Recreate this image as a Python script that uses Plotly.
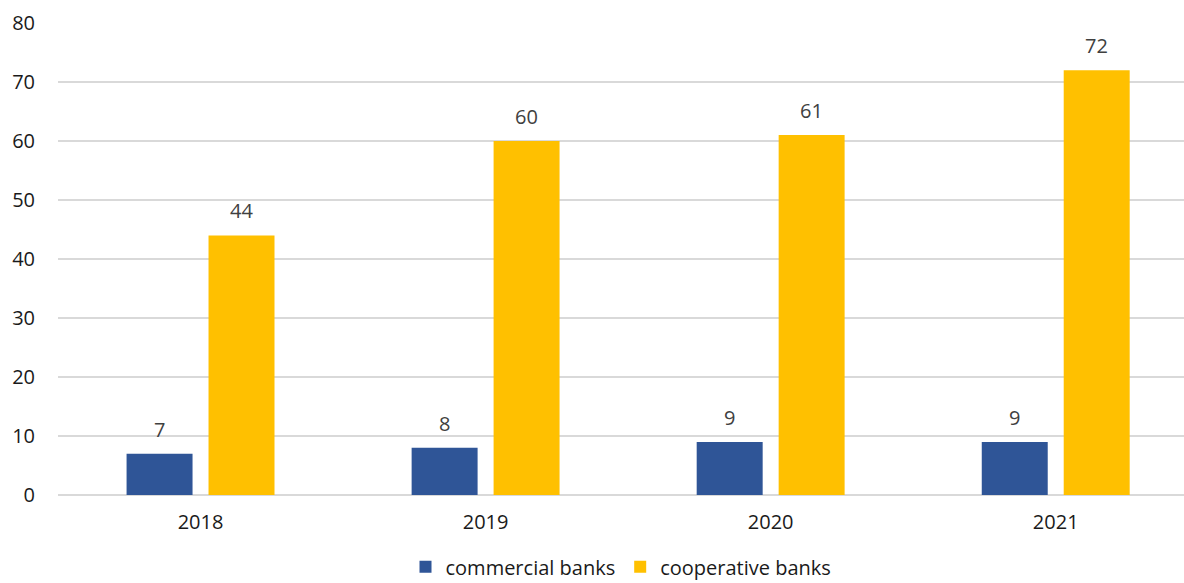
import plotly.graph_objects as go

years = ["2018", "2019", "2020", "2021"]
commercial = [7, 8, 9, 9]
cooperative = [44, 60, 61, 72]
y_ticks = [0, 10, 20, 30, 40, 50, 60, 70, 80]

BLUE = "#2F5597"
YELLOW = "#FFC000"
FONT = "Open Sans"

bargap = 0.425
bargroupgap = 0.195

fig = go.Figure()
fig.add_trace(go.Bar(name="commercial banks", x=years, y=commercial,
                     marker=dict(color=BLUE, line=dict(width=0))))
fig.add_trace(go.Bar(name="cooperative banks", x=years, y=cooperative,
                     marker=dict(color=YELLOW, line=dict(width=0))))

# data labels above bars, offset to each bar's slot within the group
slot = (1 - bargap) / 2
for k, series in enumerate([commercial, cooperative]):
    off = (k - 0.5) * slot
    for i, v in enumerate(series):
        fig.add_annotation(x=i + off, y=v, xref="x", yref="y", text=str(v),
                           showarrow=False, yanchor="bottom", yshift=9,
                           font=dict(family=FONT, size=20, color="#404040"))

fig.update_layout(
    width=1184, height=583,
    margin=dict(l=58, r=0, t=23, b=88, autoexpand=False),
    paper_bgcolor="white", plot_bgcolor="white",
    barmode="group", bargap=bargap, bargroupgap=bargroupgap,
    font=dict(family=FONT, size=20, color="#1a1a1a"),
    showlegend=True,
    legend=dict(orientation="h", x=0.5, xanchor="center", y=-0.152, yanchor="middle",
                font=dict(family=FONT, size=20, color="#1a1a1a"),
                itemwidth=30, tracegroupgap=0, traceorder="normal"),
    xaxis=dict(type="category", range=[-0.5, 3.45], showgrid=False, showline=False,
               zeroline=False, ticks="", tickfont=dict(size=20, color="#1a1a1a"),
               ticklabelstandoff=13),
    yaxis=dict(range=[0, 80], tickvals=y_ticks, showgrid=True, gridcolor="#D9D9D9",
               gridwidth=2, zeroline=True, zerolinecolor="#D9D9D9", zerolinewidth=2,
               showline=False, ticks="", tickfont=dict(size=20, color="#1a1a1a"),
               ticklabelstandoff=22),
)

fig.write_html("out.html")
